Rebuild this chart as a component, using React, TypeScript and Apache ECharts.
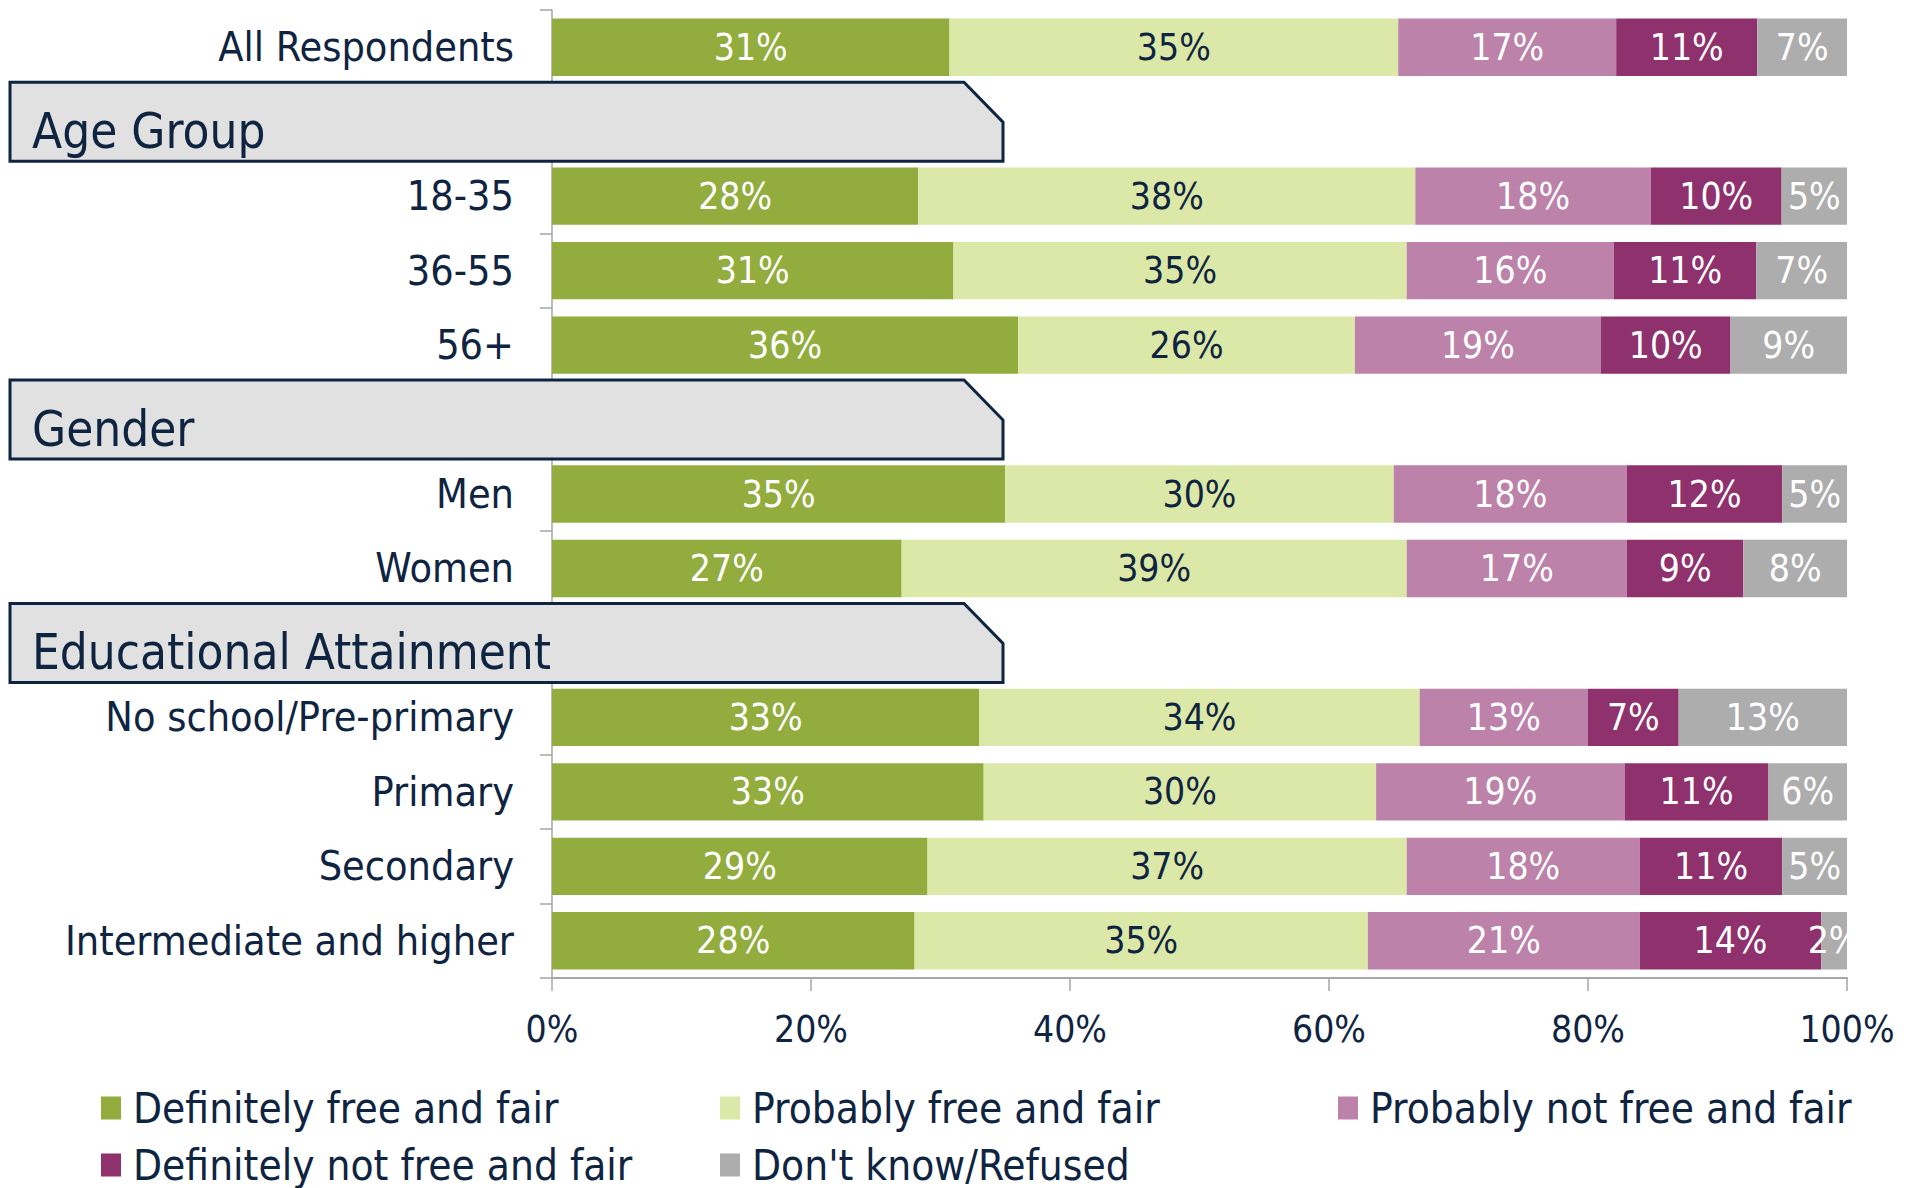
import React, { useEffect, useRef } from 'react';
import * as echarts from 'echarts';

const categories = [
  'All Respondents',
  'Age Group',
  '18-35',
  '36-55',
  '56+',
  'Gender',
  'Men',
  'Women',
  'Educational Attainment',
  'No school/Pre-primary',
  'Primary',
  'Secondary',
  'Intermediate and higher',
];
const headerRows = ['Age Group', 'Gender', 'Educational Attainment'];

const seriesNames = [
  'Definitely free and fair',
  'Probably free and fair',
  'Probably not free and fair',
  'Definitely not free and fair',
  "Don't know/Refused",
];
const seriesColors = ['#92ad3e', '#dce8a7', '#bc82a9', '#8e316c', '#adadad'];
const labelColors = ['#ffffff', '#0f2441', '#ffffff', '#ffffff', '#ffffff'];

const definitelyFree = [31, null, 28, 31, 36, null, 35, 27, null, 33, 33, 29, 28];
const probablyFree = [35, null, 38, 35, 26, null, 30, 39, null, 34, 30, 37, 35];
const probablyNotFree = [17, null, 18, 16, 19, null, 18, 17, null, 13, 19, 18, 21];
const definitelyNotFree = [11, null, 10, 11, 10, null, 12, 9, null, 7, 11, 11, 14];
const dontKnow = [7, null, 5, 7, 9, null, 5, 8, null, 13, 6, 5, 2];

const xTickValues = [0, 20, 40, 60, 80, 100];

const FONT = "'Liberation Sans Narrow', 'DejaVu Sans Condensed', 'Noto Sans', sans-serif";
const NAVY = '#0f2441';

export default function App() {
  const ref = useRef<HTMLDivElement>(null);

  useEffect(() => {
    if (!ref.current) return;
    const chart = echarts.init(ref.current, undefined, { renderer: 'svg' });
    const raw = [definitelyFree, probablyFree, probablyNotFree, definitelyNotFree, dontKnow];
    const totals = categories.map((_, i) =>
      raw.reduce((s, arr) => s + (arr[i] == null ? 0 : (arr[i] as number)), 0)
    );

    const barSeries = raw.map((arr, si) => ({
      name: seriesNames[si],
      type: 'bar',
      stack: 'total',
      barCategoryGap: '23%',
      itemStyle: { color: seriesColors[si] },
      data: arr.map((v, i) => (v == null ? null : (v / totals[i]) * 100)),
      label: {
        show: true,
        position: 'inside',
        color: labelColors[si],
        fontFamily: FONT,
        fontSize: 37,
        formatter: (p: any) => (arr[p.dataIndex] == null ? '' : arr[p.dataIndex] + '%'),
      },
    }));

    const headerSeries = {
      name: 'headers',
      type: 'custom',
      clip: false,
      z: 10,
      data: headerRows.map((h) => [0, categories.indexOf(h)]),
      encode: { x: 0, y: 1 },
      renderItem: (params: any, api: any) => {
        const idx = api.value(1);
        const c = api.coord([0, idx]);
        const band = api.size([0, 1])[1];
        const cy = c[1];
        const h = band * 1.06;
        const top = cy - h / 2;
        const bottom = cy + h / 2;
        const left = 10;
        const right = 1003;
        return {
          type: 'group',
          children: [
            {
              type: 'polygon',
              shape: {
                points: [
                  [left, top],
                  [right - 39, top],
                  [right, top + 40],
                  [right, bottom],
                  [left, bottom],
                ],
              },
              style: { fill: '#e1e1e1', stroke: NAVY, lineWidth: 3 },
            },
            {
              type: 'text',
              x: left + 22,
              y: cy + 10,
              style: {
                text: headerRows[params.dataIndex],
                fill: NAVY,
                font: `49px ${FONT}`,
                verticalAlign: 'middle',
                align: 'left',
              },
            },
          ],
        };
      },
    };

    const legendPos = [
      [101, 1087],
      [720, 1087],
      [1338, 1087],
      [101, 1144],
      [720, 1144],
    ];

    chart.setOption({
      animation: false,
      grid: { left: 552, right: 66, top: 10, bottom: 210, containLabel: false },
      xAxis: {
        type: 'value',
        min: 0,
        max: 100,
        interval: 20,
        axisLine: { show: true, lineStyle: { color: '#a6a6a6', width: 2 } },
        axisTick: { show: true, length: 13, lineStyle: { color: '#a6a6a6', width: 1.5 } },
        splitLine: { show: false },
        axisLabel: {
          formatter: (v: number) => (xTickValues.includes(v) ? v + '%' : ''),
          color: NAVY,
          fontFamily: FONT,
          fontSize: 37,
          margin: 33,
        },
      },
      yAxis: {
        type: 'category',
        inverse: true,
        data: categories,
        axisLine: { show: true, lineStyle: { color: '#a6a6a6', width: 1.5 } },
        axisTick: { show: true, length: 12, lineStyle: { color: '#a6a6a6', width: 1.5 } },
        axisLabel: {
          formatter: (v: string) => (headerRows.includes(v) ? '' : v),
          color: NAVY,
          fontFamily: FONT,
          fontSize: 41,
          margin: 38,
        },
      },
      legend: seriesNames.map((n, i) => ({
        data: [n],
        left: legendPos[i][0],
        top: legendPos[i][1],
        padding: 0,
        itemWidth: 20,
        itemHeight: 23,
        icon: 'rect',
        selectedMode: false,
        textStyle: {
          color: NAVY,
          fontFamily: FONT,
          fontSize: 42,
          lineHeight: 30,
          padding: [0, 0, 0, 7],
        },
      })),
      series: [...barSeries, headerSeries],
    });

    // emulate clipping of labels at the right end of the plot area
    const lastIdx = categories.length - 1;
    const p = chart.convertToPixel({ gridIndex: 0 }, [100, lastIdx]) as number[];
    const p0 = chart.convertToPixel({ gridIndex: 0 }, [100, 0]) as number[];
    const p1 = chart.convertToPixel({ gridIndex: 0 }, [100, 1]) as number[];
    const band = Math.abs(p1[1] - p0[1]);
    chart.setOption({
      graphic: [
        {
          type: 'rect',
          z: 100,
          shape: { x: p[0] + 1, y: p[1] - band * 0.4, width: 70, height: band * 0.8 },
          style: { fill: '#ffffff' },
        },
      ],
    });

    return () => chart.dispose();
  }, []);

  return (
    <div
      ref={ref}
      style={{ position: 'absolute', left: 0, top: 0, width: 1913, height: 1188 }}
    />
  );
}
